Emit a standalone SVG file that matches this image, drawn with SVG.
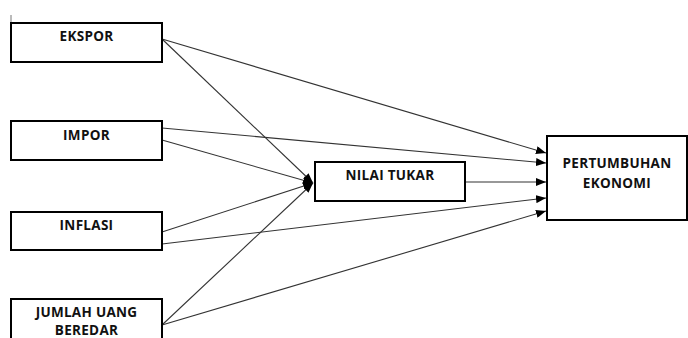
<svg xmlns="http://www.w3.org/2000/svg" width="688" height="338" viewBox="0 0 688 338">
<style>
.box{fill:#fff;stroke:#000;stroke-width:2}
.t{font-family:"Open Sans","Liberation Sans",sans-serif;font-weight:bold;font-size:13.5px;letter-spacing:0.3px;fill:#111;text-anchor:middle}
.c{stroke:#333;stroke-width:1.1;fill:none}
</style>
<defs>
<marker id="ah" viewBox="0 0 10 8" refX="10" refY="4" markerWidth="10" markerHeight="8" markerUnits="userSpaceOnUse" orient="auto">
<path d="M0,0 L10,4 L0,8 Z" fill="#000"/>
</marker>
</defs>
<line x1="11" y1="15" x2="11" y2="23" stroke="#777" stroke-width="1"/>
<g id="connectors">
<line class="c" x1="162" y1="39" x2="546" y2="153" marker-end="url(#ah)"/>
<line class="c" x1="162" y1="39" x2="313" y2="183" marker-end="url(#ah)"/>
<line class="c" x1="162" y1="128" x2="546" y2="163" marker-end="url(#ah)"/>
<line class="c" x1="162" y1="140" x2="313" y2="183" marker-end="url(#ah)"/>
<line class="c" x1="162" y1="232" x2="313" y2="183" marker-end="url(#ah)"/>
<line class="c" x1="162" y1="244" x2="546" y2="198" marker-end="url(#ah)"/>
<line class="c" x1="162" y1="325" x2="313" y2="183" marker-end="url(#ah)"/>
<line class="c" x1="162" y1="325" x2="546" y2="211" marker-end="url(#ah)"/>
<line class="c" x1="465" y1="182" x2="546" y2="182" marker-end="url(#ah)"/>
</g>
<g id="ekspor"><rect class="box" x="11" y="23" width="151" height="39"/><text class="t" x="86.5" y="41">EKSPOR</text></g>
<g id="impor"><rect class="box" x="11" y="121" width="151" height="39"/><text class="t" x="86.5" y="140">IMPOR</text></g>
<g id="inflasi"><rect class="box" x="11" y="212" width="151" height="38"/><text class="t" x="86.5" y="230">INFLASI</text></g>
<g id="jumlah"><rect class="box" x="11" y="299" width="151" height="60"/><text class="t" x="86.5" y="317">JUMLAH UANG</text><text class="t" x="86.5" y="335">BEREDAR</text></g>
<g id="nilai"><rect class="box" x="315" y="162" width="150" height="39"/><text class="t" x="390" y="180">NILAI TUKAR</text></g>
<g id="pertumbuhan"><rect class="box" x="547" y="136" width="140" height="84"/><text class="t" x="617" y="168">PERTUMBUHAN</text><text class="t" x="617" y="188">EKONOMI</text></g>
</svg>
